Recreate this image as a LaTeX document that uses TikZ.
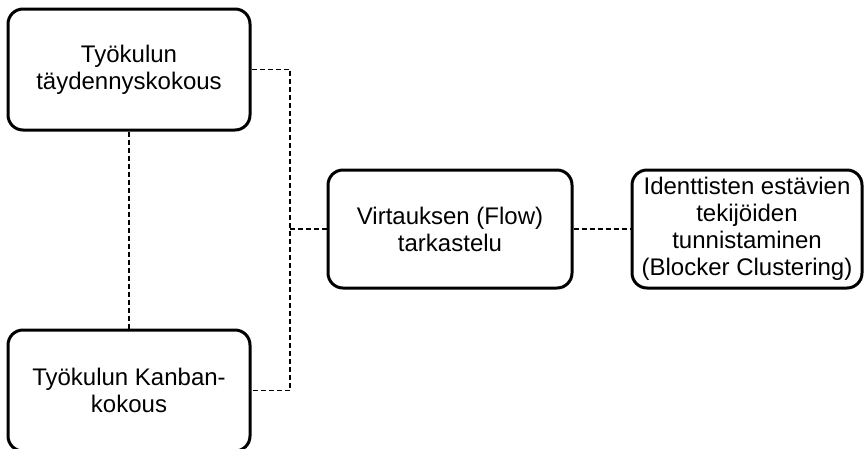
\documentclass[tikz,border=0pt]{standalone}
\usepackage{fontspec}
\setmainfont{Liberation Sans}
\begin{document}
\begin{tikzpicture}[x=1pt,y=-1pt,
  box/.style={draw, line width=3pt, rounded corners=15pt, align=center,
    inner sep=0pt, font=\fontsize{24}{27}\selectfont, text=black},
  link/.style={line width=1.5pt, dash pattern=on 5pt off 3pt}]
\useasboundingbox (0,0) rectangle (864,448);

% meetings on the left
\node[box, minimum width=242pt, minimum height=121pt] (b1) at (129,69.5)
  {Työkulun\\täydennyskokous};
\node[box, minimum width=242pt, minimum height=121pt] (b2) at (129,390.5)
  {Työkulun Kanban-\\kokous};

% flow review and blocker clustering
\node[box, minimum width=244pt, minimum height=118pt] (b3) at (450,229)
  {Virtauksen (Flow)\\tarkastelu};
\node[box, minimum width=230pt, minimum height=118pt] (b4) at (747,229)
  {Identtisten estävien\\tekijöiden\\tunnistaminen\\(Blocker Clustering)};

% dashed connectors
\coordinate (j) at (290,0);
\draw[link] (b1.east) -- (b1.east -| j) |- (b2.east);
\draw[link] (b3.west) -- (b3.west -| j);
\draw[link] (b3.east) -- (b4.west);
\draw[link] (b1.south) -- (b2.north);
\end{tikzpicture}
\end{document}
